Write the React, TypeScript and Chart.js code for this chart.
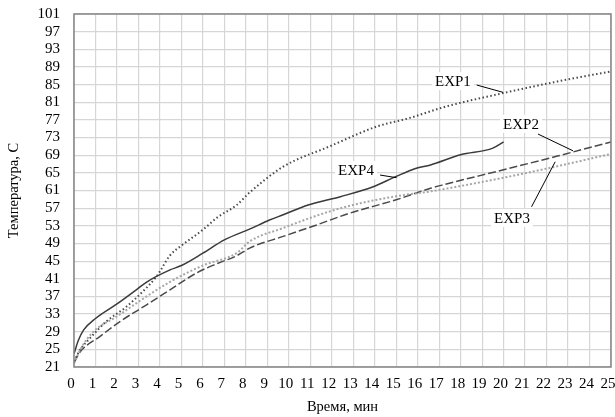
import React, { useEffect, useRef } from 'react';
import { Chart, registerables } from 'chart.js';

Chart.register(...registerables);

const FONT = "'Liberation Serif', 'Times New Roman', serif";

// Time, min
const exp1Time = [0, 0.3, 0.74, 1.5, 2.45, 3.2, 3.84, 4.47, 5.0, 6.0, 6.7, 7.57, 8.19, 9.74, 11.9, 14.1, 15.6, 17.3, 20, 22.5, 25];
const exp1Temp = [22.3, 25, 27.5, 31.3, 34.7, 38.1, 41.5, 46.3, 48.5, 52.1, 55, 57.7, 60.6, 66.4, 71, 75.5, 77.4, 80, 83.1, 85.7, 88];

const exp2Time = [0, 0.3, 1.2, 2.14, 3.38, 4.47, 5.7, 6.7, 7.57, 8.2, 9.74, 11.3, 12.8, 15, 16.6, 17.2, 20, 22.5, 25];
const exp2Temp = [22, 24.5, 27.9, 31.3, 35.1, 38.5, 42.3, 44.5, 46.2, 48.0, 50.6, 53.2, 55.8, 58.9, 61.5, 62.3, 65.7, 68.8, 72];

const exp3Time = [0, 0.3, 0.9, 1.98, 3.38, 4.47, 6, 7.57, 8.19, 9.74, 11.3, 12.8, 15, 16.6, 17.2, 20, 22.5, 25];
const exp3Temp = [21.8, 25, 29, 32.4, 37, 40.3, 44, 46.8, 49.5, 52.5, 55.3, 57.5, 59.7, 60.8, 61.3, 63.9, 66.5, 69.3];

const exp4Time = [0, 0.2, 0.45, 1, 2, 2.9, 3.4, 4.47, 5, 6, 7, 8.2, 9.1, 9.74, 10.9, 12.4, 13.9, 15, 15.9, 16.6, 18, 19.5, 20];
const exp4Temp = [24, 27, 29.4, 32, 35.3, 38.5, 40.3, 43, 44, 46.8, 49.8, 52.3, 54.3, 55.5, 57.7, 59.6, 61.8, 64.2, 66, 66.8, 69.1, 70.6, 72];

// Callout labels (data coordinates)
const calloutText = ['EXP1', 'EXP2', 'EXP3', 'EXP4'];
const calloutTextX = [17.64, 20.81, 20.39, 13.13];
const calloutTextY = [85.8, 76.1, 54.8, 65.6];
const calloutFromX = [18.75, 21.6, 21.3, 14.25];
const calloutFromY = [84.9, 73.8, 57.3, 64.5];
const calloutToX = [19.97, 23.23, 22.4, 15.02];
const calloutToY = [83.25, 70.0, 67.5, 63.9];

const xTitle = 'Время, мин';
const yTitle = 'Температура, С';

const toPoints = (xs: number[], ys: number[]) => xs.map((x, i) => ({ x, y: ys[i] }));

const overlayPlugin = {
  id: 'overlay',
  afterDatasetsDraw(chart: any) {
    const { ctx, chartArea, scales } = chart;
    const xs = scales.x;
    const ys = scales.y;
    ctx.save();
    ctx.strokeStyle = '#858585';
    ctx.lineWidth = 1.5;
    ctx.strokeRect(chartArea.left, chartArea.top, chartArea.right - chartArea.left, chartArea.bottom - chartArea.top);
    ctx.font = `15px ${FONT}`;
    ctx.textAlign = 'center';
    ctx.textBaseline = 'middle';
    for (let i = 0; i < calloutText.length; i++) {
      const fx = xs.getPixelForValue(calloutFromX[i]);
      const fy = ys.getPixelForValue(calloutFromY[i]);
      const tx = xs.getPixelForValue(calloutToX[i]);
      const ty = ys.getPixelForValue(calloutToY[i]);
      ctx.strokeStyle = '#000';
      ctx.lineWidth = 1;
      ctx.beginPath();
      ctx.moveTo(fx, fy);
      ctx.lineTo(tx, ty);
      ctx.stroke();
      const cx = xs.getPixelForValue(calloutTextX[i]);
      const cy = ys.getPixelForValue(calloutTextY[i]);
      const w = ctx.measureText(calloutText[i]).width;
      ctx.fillStyle = '#fff';
      ctx.fillRect(cx - w / 2 - 3, cy - 9, w + 6, 18);
      ctx.fillStyle = '#000';
      ctx.fillText(calloutText[i], cx, cy + 1);
    }
    ctx.restore();
  },
};

export default function App() {
  const ref = useRef<HTMLCanvasElement | null>(null);
  useEffect(() => {
    if (!ref.current) return;
    Chart.defaults.font.family = FONT;
    const common = { pointRadius: 0, cubicInterpolationMode: 'monotone' as const };
    const chart = new Chart(ref.current, {
      type: 'line',
      data: {
        datasets: [
          {
            label: 'EXP3',
            data: toPoints(exp3Time, exp3Temp),
            borderColor: '#a6a6a6',
            borderWidth: 2,
            borderDash: [2, 2],
            ...common,
          },
          {
            label: 'EXP2',
            data: toPoints(exp2Time, exp2Temp),
            borderColor: '#4a4a4a',
            borderWidth: 1.5,
            borderDash: [8, 3],
            ...common,
          },
          {
            label: 'EXP4',
            data: toPoints(exp4Time, exp4Temp),
            borderColor: '#3a3a3a',
            borderWidth: 1.5,
            ...common,
          },
          {
            label: 'EXP1',
            data: toPoints(exp1Time, exp1Temp),
            borderColor: '#4a4a4a',
            borderWidth: 2,
            borderDash: [1.5, 2.5],
            ...common,
          },
        ],
      },
      options: {
        animation: false,
        responsive: true,
        maintainAspectRatio: false,
        layout: { padding: { top: 14, right: 4, left: 0, bottom: 0 } },
        plugins: { legend: { display: false }, tooltip: { enabled: false } },
        scales: {
          x: {
            type: 'linear',
            min: 0,
            max: 25,
            afterFit: (s: any) => { s.height = 50; s.paddingLeft = 0; s.paddingRight = 0; },
            ticks: { stepSize: 1, color: '#000', font: { size: 15, family: FONT }, padding: 8, maxRotation: 0, autoSkip: false, labelOffset: -3 },
            grid: { color: '#d6d6d6', lineWidth: 1.2, drawTicks: false },
            border: { display: false },
            title: { display: true, text: xTitle, color: '#000', font: { size: 14.5, family: FONT }, padding: { top: 0, bottom: 1 } },
          },
          y: {
            type: 'linear',
            min: 21,
            max: 101,
            afterFit: (s: any) => { s.width = 74; s.paddingTop = 0; s.paddingBottom = 0; },
            ticks: { stepSize: 4, color: '#000', font: { size: 15, family: FONT }, padding: 14, autoSkip: false },
            grid: { color: '#d6d6d6', lineWidth: 1.2, drawTicks: false },
            border: { display: false },
            title: { display: true, text: yTitle, color: '#000', font: { size: 14.5, family: FONT }, padding: { top: 5, bottom: 0 } },
          },
        },
      },
      plugins: [overlayPlugin],
    });
    return () => chart.destroy();
  }, []);
  return (
    <div style={{ position: 'absolute', left: 0, top: 0, width: 615, height: 417, background: '#fff' }}>
      <canvas ref={ref} />
    </div>
  );
}
